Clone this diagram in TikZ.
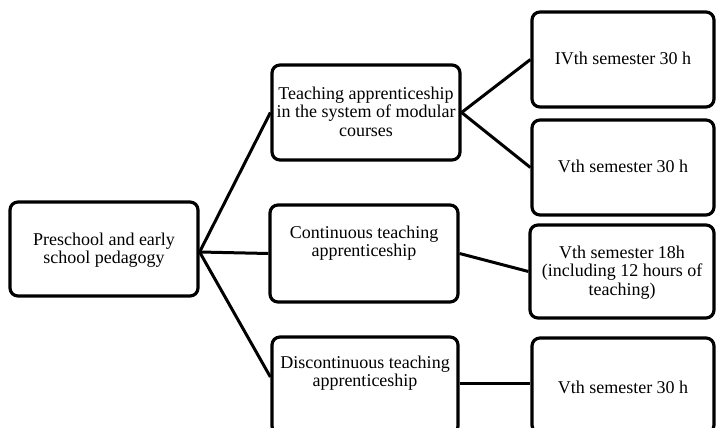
\documentclass[tikz,border=0pt]{standalone}
\usepackage{fontspec}
\setmainfont{Liberation Serif}
\newcommand{\bxt}[2]{\raisebox{#1}[0pt][0pt]{\begin{tabular}{@{}c@{}}#2\end{tabular}}}
\begin{document}
\begin{tikzpicture}[x=1pt,y=-1pt,
  box/.style={draw=black, line width=3.2pt, rounded corners=8pt, fill=white,
    inner sep=0pt, font=\fontsize{18}{18.7}\selectfont},
  link/.style={draw=black, line width=3pt}]
\clip (0,0) rectangle (716,428);
\useasboundingbox (0,0) rectangle (716,428);
\fill[white] (0,0) rectangle (716,428);
% left
\node[box, minimum width=188pt, minimum height=94pt] (root) at (104,249)
  {\bxt{-6pt}{Preschool and early\\school pedagogy}};
% middle
\node[box, minimum width=188pt, minimum height=95pt] (b1) at (366,112.5)
  {\bxt{-6pt}{Teaching apprenticeship\\in the system of modular\\courses}};
\node[box, minimum width=188pt, minimum height=97pt] (b2) at (364,253.5)
  {\bxt{5.5pt}{Continuous teaching\\apprenticeship}};
\node[box, minimum width=186pt, minimum height=97pt] (b3) at (365,385.5)
  {\bxt{7.5pt}{Discontinuous teaching\\apprenticeship}};
% right
\node[box, minimum width=182pt, minimum height=95pt] (ra) at (623,59.5)
  {\bxt{-6pt}{IVth semester 30 h}};
\node[box, minimum width=182pt, minimum height=95pt] (rb) at (623,167.5)
  {\bxt{-6pt}{Vth semester 30 h}};
\node[box, minimum width=184pt, minimum height=93pt] (rc) at (622,271.5)
  {\bxt{-6pt}{Vth semester 18h\\(including 12 hours of\\teaching)}};
\node[box, minimum width=182pt, minimum height=95pt] (rd) at (623,385.5)
  {\bxt{-9pt}{Vth semester 30 h}};
% connectors
\draw[link] ([yshift=-3pt]root.east) -- (b1.west);
\draw[link] ([yshift=-3pt]root.east) -- (b2.west);
\draw[link] ([yshift=-3pt]root.east) -- ([yshift=8.5pt]b3.west);
\draw[link] (b1.east) -- (ra.west);
\draw[link] (b1.east) -- (rb.west);
\draw[link] (b2.east) -- (rc.west);
\draw[link] ([yshift=2.5pt]b3.east) -- ([yshift=2.5pt]rd.west);
\end{tikzpicture}
\end{document}
